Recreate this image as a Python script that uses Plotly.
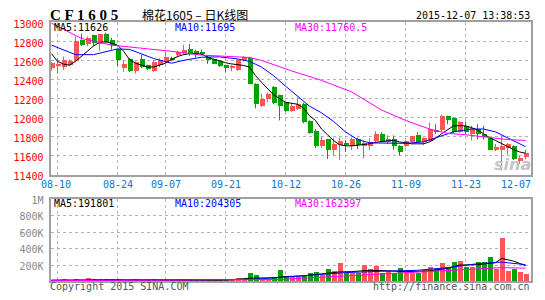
import plotly.graph_objects as go

# ---------------- data ----------------
idx = list(range(80))  # trading days 2015-08-07 .. 2015-12-07

open_ = [12513, 12545, 12525, 12550, 12590, 12810, 12770, 12860, 12770, 12870,
         12813, 12713, 12515, 12613, 12490, 12610, 12547, 12490, 12550, 12580,
         12617, 12650, 12670, 12720, 12697, 12680, 12637, 12613, 12587, 12547,
         12520, 12497, 12600, 12623, 12350, 12123, 12197, 12323, 12237, 12157,
         12070, 12090, 12137, 11963, 11857, 11703, 11770, 11663, 11713, 11730,
         11703, 11770, 11703, 11697, 11757, 11823, 11747, 11770, 11703, 11697,
         11747, 11813, 11747, 11757, 11870, 11863, 12013, 11990, 11847, 11913,
         11830, 11880, 11823, 11780, 11657, 11663, 11680, 11703, 11547, 11580]
high = [12580, 12620, 12640, 12610, 12850, 12880, 12850, 12870, 12880, 12890,
        12837, 12720, 12603, 12620, 12590, 12657, 12555, 12603, 12620, 12690,
        12640, 12700, 12763, 12770, 12713, 12713, 12650, 12620, 12597, 12550,
        12553, 12613, 12647, 12637, 12360, 12247, 12260, 12330, 12240, 12160,
        12157, 12213, 12157, 11970, 11880, 11800, 11775, 11790, 11790, 11763,
        11790, 11790, 11757, 11780, 11857, 11847, 11813, 11813, 11710, 11770,
        11810, 11847, 11790, 11947, 11930, 12030, 12020, 12003, 11963, 11957,
        11913, 11930, 11913, 11790, 11723, 11813, 11733, 11710, 11600, 11663]
low = [12490, 12460, 12500, 12540, 12580, 12750, 12750, 12750, 12700, 12780,
       12713, 12537, 12480, 12480, 12463, 12520, 12500, 12480, 12530, 12570,
       12590, 12630, 12660, 12647, 12630, 12657, 12563, 12560, 12530, 12480,
       12487, 12490, 12590, 12350, 12097, 12110, 12160, 12140, 11970, 12060,
       12060, 12080, 11940, 11830, 11680, 11680, 11567, 11600, 11557, 11640,
       11660, 11670, 11573, 11660, 11730, 11740, 11723, 11663, 11603, 11690,
       11740, 11740, 11713, 11750, 11830, 11855, 11930, 11840, 11840, 11823,
       11760, 11770, 11770, 11660, 11650, 11447, 11610, 11555, 11513, 11563]
close = [12570, 12555, 12600, 12595, 12800, 12755, 12830, 12780, 12870, 12790,
         12757, 12597, 12555, 12490, 12580, 12530, 12503, 12580, 12600, 12630,
         12610, 12685, 12710, 12680, 12663, 12670, 12603, 12563, 12537, 12513,
         12527, 12597, 12637, 12353, 12137, 12190, 12240, 12153, 12123, 12070,
         12123, 12137, 11947, 11837, 11703, 11763, 11657, 11720, 11753, 11707,
         11770, 11713, 11730, 11747, 11823, 11747, 11773, 11697, 11637, 11753,
         11803, 11747, 11780, 11880, 11853, 12013, 11970, 11847, 11947, 11847,
         11887, 11823, 11803, 11663, 11687, 11703, 11720, 11563, 11570, 11630]

ma5 = [12670, 12590, 12560, 12550, 12590, 12640, 12700, 12750, 12790, 12795,
       12780, 12760, 12697, 12610, 12570, 12550, 12530, 12530, 12550, 12570,
       12610, 12640, 12660, 12670, 12670, 12665, 12635, 12610, 12597, 12575,
       12563, 12555, 12547, 12530, 12440, 12370, 12300, 12240, 12200, 12160,
       12150, 12140, 12100, 12020, 11970, 11880, 11820, 11760, 11715, 11705,
       11703, 11710, 11718, 11725, 11740, 11750, 11757, 11763, 11745, 11735,
       11725, 11725, 11725, 11745, 11780, 11830, 11870, 11913, 11915, 11913,
       11895, 11870, 11830, 11790, 11760, 11725, 11697, 11665, 11640, 11626]
ma10_idx = [0, 4, 7, 11, 13, 17, 20, 22, 25, 28, 31, 33, 35, 37, 39, 41, 43, 45,
            47, 49, 51, 53, 56, 59, 62, 64, 67, 70, 72, 74, 76, 78, 79]
ma10_val = [12760, 12660, 12660, 12720, 12715, 12620, 12570, 12600, 12633, 12637,
            12615, 12590, 12530, 12440, 12330, 12220, 12120, 12050, 11960, 11850,
            11770, 11735, 11730, 11730, 11745, 11790, 11850, 11880, 11880, 11850,
            11790, 11730, 11695]
ma30_idx = [0, 5, 10, 15, 20, 25, 30, 33, 35, 40, 45, 50, 55, 59, 63, 66, 69, 73, 76, 79]
ma30_val = [12990, 12830, 12760, 12730, 12695, 12655, 12640, 12630, 12600, 12490,
            12390, 12270, 12080, 11970, 11880, 11835, 11820, 11795, 11770, 11760.5]

volume_k = [16, 16, 28, 14, 28, 12, 40, 30, 30, 30, 30, 28, 14, 10, 30, 8, 10, 28, 12, 10,
            12, 28, 28, 26, 12, 12, 14, 14, 14, 14, 22, 36, 26, 100, 76, 30, 28, 56, 140, 68,
            50, 56, 68, 100, 116, 76, 148, 128, 220, 100, 100, 100, 200, 152, 188, 100, 120, 100, 160, 116,
            100, 100, 140, 168, 148, 220, 176, 236, 244, 168, 168, 230, 235, 290, 148, 520, 128, 150, 110, 90]
vma5_idx = [0, 4, 8, 12, 16, 20, 24, 28, 30, 33, 37, 39, 42, 45, 48, 50, 53, 56, 59, 63, 66, 68, 71, 74, 75, 77, 79]
vma5_k = [14, 18, 20, 18, 18, 14, 14, 14, 20, 40, 45, 60, 68, 90, 116, 120, 136, 130, 120, 128,
          160, 200, 204, 228, 280, 248, 191.8]
vma10_idx = [0, 10, 20, 30, 33, 38, 44, 49, 55, 61, 66, 71, 75, 79]
vma10_k = [16, 18, 16, 18, 25, 48, 76, 108, 124, 136, 168, 216, 236, 204.3]
vma30_idx = [0, 10, 20, 30, 38, 44, 49, 55, 61, 66, 71, 75, 79]
vma30_k = [10, 12, 14, 18, 24, 48, 68, 84, 108, 128, 156, 168, 162.4]

grid_idx = [1, 11, 19, 29, 39, 49, 59, 69]
date_idx = [1, 11, 19, 29, 39, 49, 59, 69, 79]
date_labels = ["08-10", "08-24", "09-07", "09-21", "10-12", "10-26", "11-09", "11-23", "12-07"]
price_ticks = [11400, 11600, 11800, 12000, 12200, 12400, 12600, 12800, 13000]
price_tick_text = ["11400", "11600", "11800", "12000", "12200", "12400", "12600", "12800", "13000"]
vol_ticks = [200000, 400000, 600000, 800000, 1000000]
vol_tick_text = ["200K", "400K", "600K", "800K", "1M"]

title_code = "C F 1 6 0 5"
title_name = "棉花1605 – 日K线图"
timestamp = "2015-12-07 13:38:53"
ma_text = ["MA5:11626", "MA10:11695", "MA30:11760.5"]
vma_text = ["MA5:191801", "MA10:204305", "MA30:162397"]

# ---------------- style ----------------
W, H = 545, 300
PL, PR = 50.5, 531
PT, PB = 18, 177.5
VT, VB = 203, 289
UP, DN = "#ff5555", "#00a400"
MONO = "DejaVu Sans Mono"
GRID = "#b4b4b4"
BORDER = "#a0a0a0"

up = [c >= o for o, c in zip(open_, close)]
colors = [UP if u else DN for u in up]
body_base = [min(o, c) for o, c in zip(open_, close)]
body_h = [max(abs(c - o), 9) for o, c in zip(open_, close)]

fig = go.Figure()

for flag, col in ((True, UP), (False, DN)):
    wx, wy = [], []
    for i in idx:
        if up[i] == flag:
            wx += [i, i, None]
            wy += [low[i], high[i], None]
    fig.add_trace(go.Scatter(x=wx, y=wy, mode="lines", line=dict(color=col, width=1),
                             hoverinfo="skip", xaxis="x", yaxis="y"))

fig.add_trace(go.Bar(x=idx, y=body_h, base=body_base, width=5 / 6,
                     marker=dict(color=colors, line=dict(width=0)), xaxis="x", yaxis="y"))

fig.add_trace(go.Scatter(x=idx, y=ma5, mode="lines", line=dict(color="black", width=1), xaxis="x", yaxis="y"))
fig.add_trace(go.Scatter(x=ma10_idx, y=ma10_val, mode="lines", line=dict(color="#0000ff", width=1), xaxis="x", yaxis="y"))
fig.add_trace(go.Scatter(x=ma30_idx, y=ma30_val, mode="lines", line=dict(color="#ff00ff", width=1), xaxis="x", yaxis="y"))

fig.add_trace(go.Bar(x=idx, y=[v * 1000 for v in volume_k], width=5 / 6,
                     marker=dict(color=colors, line=dict(width=0)), xaxis="x2", yaxis="y2"))
fig.add_trace(go.Scatter(x=vma5_idx, y=[v * 1000 for v in vma5_k], mode="lines",
                         line=dict(color="black", width=1), xaxis="x2", yaxis="y2"))
fig.add_trace(go.Scatter(x=vma10_idx, y=[v * 1000 for v in vma10_k], mode="lines",
                         line=dict(color="#0000ff", width=1), xaxis="x2", yaxis="y2"))
fig.add_trace(go.Scatter(x=vma30_idx, y=[v * 1000 for v in vma30_k], mode="lines",
                         line=dict(color="#ff00ff", width=1), xaxis="x2", yaxis="y2"))

xr = [-1 / 6, -1 / 6 + (PR - PL) / 6.0]
xcommon = dict(domain=[PL / W, PR / W], range=xr, tickvals=grid_idx, showticklabels=False,
               ticks="", showgrid=True, gridcolor=GRID, griddash="dot", gridwidth=1,
               showline=True, linecolor=BORDER, linewidth=2, mirror=True, zeroline=False,
               fixedrange=True)
fig.update_layout(
    width=W, height=H, margin=dict(l=0, r=0, t=0, b=0),
    paper_bgcolor="white", plot_bgcolor="white", showlegend=False,
    bargap=0, barmode="overlay",
    xaxis=dict(anchor="y", **xcommon),
    xaxis2=dict(anchor="y2", **xcommon),
    yaxis=dict(anchor="x", domain=[1 - PB / H, 1 - PT / H], range=[11400, 13000],
               tickvals=price_ticks, ticktext=price_tick_text, ticks="", showgrid=True,
               gridcolor=GRID, griddash="dot",
               showline=True, linecolor=BORDER, linewidth=2, mirror=True, zeroline=False,
               tickfont=dict(family=MONO, size=10, color="#ff0000"), ticklabelshift=2,
               ticklabelstandoff=3),
    yaxis2=dict(anchor="x2", domain=[1 - VB / H, 1 - VT / H], range=[0, 1000000],
                tickvals=vol_ticks, ticktext=vol_tick_text, ticks="", showgrid=True,
                gridcolor=GRID, griddash="dot", showline=True, linecolor=BORDER, linewidth=2,
                mirror=True, zeroline=False,
                tickfont=dict(family=MONO, size=10, color="#888888"), ticklabelshift=1,
                ticklabelstandoff=3),
)

ann = []
def add_text(text, xpx, ypx, color="black", size=10, family=MONO, anchor="left", **kw):
    ann.append(dict(text=text, xref="paper", yref="paper", x=xpx / W, y=1 - ypx / H,
                    xanchor=anchor, yanchor="middle", showarrow=False,
                    font=dict(family=family, size=size, color=color), borderpad=0, **kw))

add_text("<b>" + title_code + "</b>", 49, 10, size=15, family="Liberation Serif")
add_text(title_name, 141, 10, size=12, family="Noto Sans CJK SC")
add_text(timestamp, 531, 11, anchor="right")
for t, xp, col in zip(ma_text, (53, 174, 294), ("black", "#0000ff", "#ff00ff")):
    add_text(t, xp, 24, color=col)
for t, xp, col in zip(vma_text, (53, 174, 294), ("black", "#0000ff", "#ff00ff")):
    add_text(t, xp, 207, color=col)
add_text("Copyright 2015 SINA.COM", 49, 294, color="#555555")
add_text("http://finance.sina.com.cn", 531, 294, color="#555555", anchor="right")
add_text("<i><b>sina</b></i>", 512, 167, color="#c4c4c4", size=16, family="DejaVu Sans", anchor="center")

for i, lab in zip(date_idx, date_labels):
    shift = -2 if i == date_idx[0] else (-10 if i == date_idx[-1] else 0)
    ann.append(dict(text=lab, xref="x", yref="paper", x=i, y=1 - 188 / H, xanchor="center",
                    yanchor="middle", showarrow=False, xshift=shift, borderpad=0,
                    font=dict(family=MONO, size=10, color="#0a78cc")))

fig.update_layout(annotations=ann)
fig.write_html("out.html")
